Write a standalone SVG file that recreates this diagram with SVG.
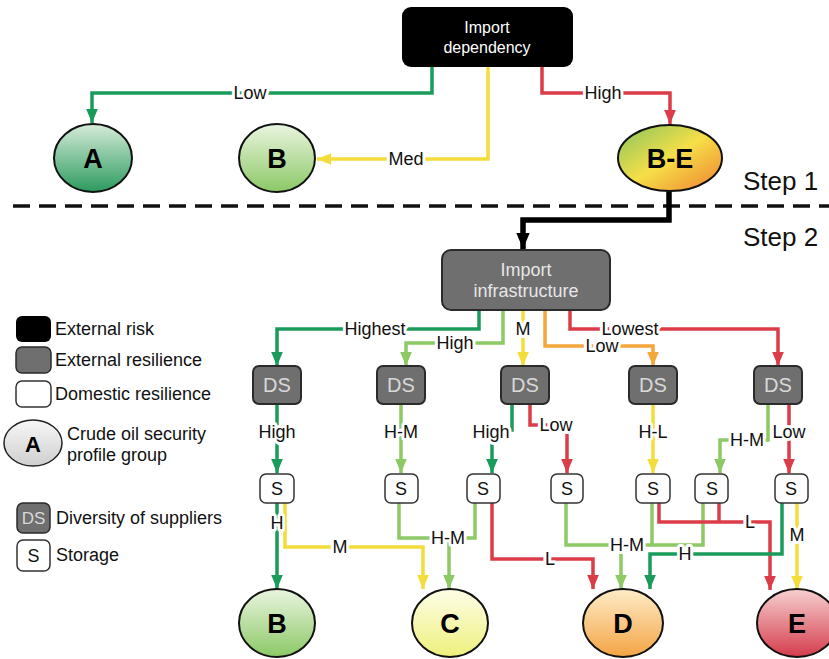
<svg xmlns="http://www.w3.org/2000/svg" width="829" height="659" viewBox="0 0 829 659">
<defs>
<style>
text{font-family:"Liberation Sans",Arial,sans-serif;}
.lbl{font-size:18px;fill:#111;text-anchor:middle;dominant-baseline:central;paint-order:stroke;stroke:#fff;stroke-width:6px;stroke-linejoin:round;}
.leg{font-size:18px;fill:#111;}
.big{font-size:27px;font-weight:bold;fill:#000;text-anchor:middle;dominant-baseline:central;}
.step{font-size:26px;fill:#111;}
.c{fill:none;stroke-width:3.5;stroke-linejoin:miter;}
.dg{stroke:#1a9b5b;}
.lg{stroke:#8dc965;}
.ye{stroke:#f4dc3a;}
.or{stroke:#f5a73b;}
.rd{stroke:#dc3c48;}
.ds{fill:#6f6f6f;stroke:#2b2b2b;stroke-width:2;}
.dst{font-size:20px;fill:#d8d8d8;text-anchor:middle;dominant-baseline:central;}
.s{fill:#fdfdfd;stroke:#333;stroke-width:1.5;}
.st{font-size:18px;fill:#111;text-anchor:middle;dominant-baseline:central;}
.el{stroke:#111;stroke-width:2;}
</style>
<marker id="mdg" markerUnits="userSpaceOnUse" viewBox="0 0 12 10" refX="12" refY="5" markerWidth="14" markerHeight="12" orient="auto"><path d="M0,0 L12,5 L0,10 z" fill="#1a9b5b"/></marker>
<marker id="mlg" markerUnits="userSpaceOnUse" viewBox="0 0 12 10" refX="12" refY="5" markerWidth="14" markerHeight="12" orient="auto"><path d="M0,0 L12,5 L0,10 z" fill="#8dc965"/></marker>
<marker id="mye" markerUnits="userSpaceOnUse" viewBox="0 0 12 10" refX="12" refY="5" markerWidth="14" markerHeight="12" orient="auto"><path d="M0,0 L12,5 L0,10 z" fill="#f4dc3a"/></marker>
<marker id="mor" markerUnits="userSpaceOnUse" viewBox="0 0 12 10" refX="12" refY="5" markerWidth="14" markerHeight="12" orient="auto"><path d="M0,0 L12,5 L0,10 z" fill="#f5a73b"/></marker>
<marker id="mrd" markerUnits="userSpaceOnUse" viewBox="0 0 12 10" refX="12" refY="5" markerWidth="14" markerHeight="12" orient="auto"><path d="M0,0 L12,5 L0,10 z" fill="#dc3c48"/></marker>
<marker id="mbk" markerUnits="userSpaceOnUse" viewBox="0 0 12 10" refX="12" refY="5" markerWidth="16" markerHeight="15" orient="auto"><path d="M0,0 L12,5 L0,10 z" fill="#000"/></marker>
<linearGradient id="gA" x1="0" y1="0" x2="0" y2="1"><stop offset="0" stop-color="#d6ecd9"/><stop offset="1" stop-color="#2c9a5e"/></linearGradient>
<linearGradient id="gB" x1="0" y1="0" x2="0" y2="1"><stop offset="0" stop-color="#eaf5e0"/><stop offset="1" stop-color="#8cc866"/></linearGradient>
<linearGradient id="gC" x1="0" y1="0" x2="0" y2="1"><stop offset="0" stop-color="#fefee8"/><stop offset="1" stop-color="#eef07c"/></linearGradient>
<linearGradient id="gD" x1="0" y1="0" x2="0" y2="1"><stop offset="0" stop-color="#fdecc8"/><stop offset="1" stop-color="#f4a444"/></linearGradient>
<linearGradient id="gE" x1="0" y1="0" x2="0" y2="1"><stop offset="0" stop-color="#f6d0d0"/><stop offset="1" stop-color="#d43c4c"/></linearGradient>
<linearGradient id="gBE" x1="0" y1="0" x2="1" y2="1"><stop offset="0" stop-color="#86c45e"/><stop offset="0.5" stop-color="#f6df48"/><stop offset="1" stop-color="#ef8030"/></linearGradient>
<linearGradient id="gL" x1="0" y1="0" x2="0" y2="1"><stop offset="0" stop-color="#f7f7f7"/><stop offset="1" stop-color="#cfcfcf"/></linearGradient>
</defs>
<rect width="829" height="659" fill="#fff"/>

<!-- step divider -->
<line x1="13" y1="206" x2="829" y2="206" stroke="#111" stroke-width="3.5" stroke-dasharray="17 9"/>
<text class="step" x="743" y="190">Step 1</text>
<text class="step" x="743" y="246">Step 2</text>

<g id="connectors">
<!-- step 1 -->
<path class="c dg" d="M432,67 V93 H92 V123" marker-end="url(#mdg)"/>
<path class="c ye" d="M488,67 V159 H317" marker-end="url(#mye)"/>
<path class="c rd" d="M542,67 V93 H670 V124" marker-end="url(#mrd)"/>
<path d="M669,190 V220 H523 V249" fill="none" stroke="#000" stroke-width="5.5" marker-end="url(#mbk)"/>
<!-- infra to DS -->
<path class="c dg" d="M479,310 V329 H277 V366" marker-end="url(#mdg)"/>
<path class="c lg" d="M503,310 V343 H406 V366" marker-end="url(#mlg)"/>
<path class="c ye" d="M523,310 V366" marker-end="url(#mye)"/>
<path class="c or" d="M545,310 V346 H653 V366" marker-end="url(#mor)"/>
<path class="c rd" d="M570,310 V329 H778 V366" marker-end="url(#mrd)"/>
<!-- DS to S -->
<path class="c dg" d="M277,404 V473" marker-end="url(#mdg)"/>
<path class="c lg" d="M401,404 V473" marker-end="url(#mlg)"/>
<path class="c dg" d="M512,404 V430 H492 V473" marker-end="url(#mdg)"/>
<path class="c rd" d="M530,404 V425 H567 V473" marker-end="url(#mrd)"/>
<path class="c ye" d="M653,404 V473" marker-end="url(#mye)"/>
<path class="c lg" d="M768,404 V440 H720 V473" marker-end="url(#mlg)"/>
<path class="c rd" d="M789,404 V473" marker-end="url(#mrd)"/>
<!-- S to groups -->
<path class="c dg" d="M277,503 V589" marker-end="url(#mdg)"/>
<path class="c ye" d="M285,503 V547 H423 V589" marker-end="url(#mye)"/>
<path class="c lg" d="M399,503 V538 H475 V503"/>
<path class="c lg" d="M449,538 V589" marker-end="url(#mlg)"/>
<path class="c rd" d="M492,503 V559 H593 V589" marker-end="url(#mrd)"/>
<path class="c lg" d="M566,503 V545 H703 V503"/>
<path class="c lg" d="M652,503 V545"/>
<path class="c lg" d="M621,545 V589" marker-end="url(#mlg)"/>
<path class="c rd" d="M659,503 V522 H770 V590" marker-end="url(#mrd)"/>
<path class="c rd" d="M719,503 V522"/>
<path class="c dg" d="M782,503 V554 H650 V589" marker-end="url(#mdg)"/>
<path class="c ye" d="M797,503 V590" marker-end="url(#mye)"/>
<!-- labels -->
<text class="lbl" x="250" y="93">Low</text>
<text class="lbl" x="406" y="159">Med</text>
<text class="lbl" x="603" y="93">High</text>
<text class="lbl" x="375" y="329">Highest</text>
<text class="lbl" x="455" y="343">High</text>
<text class="lbl" x="523" y="329">M</text>
<text class="lbl" x="602" y="346">Low</text>
<text class="lbl" x="630" y="329">Lowest</text>
<text class="lbl" x="277" y="432">High</text>
<text class="lbl" x="401" y="432">H-M</text>
<text class="lbl" x="491" y="432">High</text>
<text class="lbl" x="556" y="425">Low</text>
<text class="lbl" x="653" y="432">H-L</text>
<text class="lbl" x="747" y="440">H-M</text>
<text class="lbl" x="789" y="432">Low</text>
<text class="lbl" x="277" y="523">H</text>
<text class="lbl" x="340" y="547">M</text>
<text class="lbl" x="448" y="538">H-M</text>
<text class="lbl" x="550" y="559">L</text>
<text class="lbl" x="627" y="545">H-M</text>
<text class="lbl" x="750" y="522">L</text>
<text class="lbl" x="685" y="554">H</text>
<text class="lbl" x="797" y="535">M</text>
</g>

<g id="import-dependency">
<rect x="402" y="7" width="171" height="60" rx="9" fill="#000"/>
<text x="487" y="33" font-size="16" fill="#fff" text-anchor="middle">Import</text>
<text x="487" y="53" font-size="16" fill="#fff" text-anchor="middle">dependency</text>
</g>
<g id="A-top"><ellipse class="el" cx="93" cy="158" rx="39" ry="34" fill="url(#gA)"/><text class="big" x="93" y="159">A</text></g>
<g id="B-top"><ellipse class="el" cx="277" cy="158" rx="38" ry="34" fill="url(#gB)"/><text class="big" x="277" y="159">B</text></g>
<g id="B-E"><ellipse class="el" cx="670" cy="158" rx="52" ry="33" fill="url(#gBE)"/><text class="big" x="670" y="159">B-E</text></g>

<g id="import-infrastructure">
<rect x="442" y="250" width="168" height="60" rx="9" fill="#6f6f6f" stroke="#2b2b2b" stroke-width="2"/>
<text x="526" y="276" font-size="18" fill="#e6e6e6" text-anchor="middle">Import</text>
<text x="526" y="297" font-size="18" fill="#e6e6e6" text-anchor="middle">infrastructure</text>
</g>

<g id="ds1"><rect class="ds" x="253" y="366" width="48" height="38" rx="6"/><text class="dst" x="277" y="385">DS</text></g>
<g id="ds2"><rect class="ds" x="377" y="366" width="48" height="38" rx="6"/><text class="dst" x="401" y="385">DS</text></g>
<g id="ds3"><rect class="ds" x="501" y="366" width="48" height="38" rx="6"/><text class="dst" x="525" y="385">DS</text></g>
<g id="ds4"><rect class="ds" x="629" y="366" width="48" height="38" rx="6"/><text class="dst" x="653" y="385">DS</text></g>
<g id="ds5"><rect class="ds" x="754" y="366" width="48" height="38" rx="6"/><text class="dst" x="778" y="385">DS</text></g>

<g id="s1"><rect class="s" x="260" y="474" width="34" height="29" rx="6"/><text class="st" x="277" y="489">S</text></g>
<g id="s2"><rect class="s" x="385" y="474" width="33" height="29" rx="6"/><text class="st" x="401" y="489">S</text></g>
<g id="s3"><rect class="s" x="467" y="474" width="33" height="29" rx="6"/><text class="st" x="483" y="489">S</text></g>
<g id="s4"><rect class="s" x="551" y="474" width="32" height="29" rx="6"/><text class="st" x="567" y="489">S</text></g>
<g id="s5"><rect class="s" x="636" y="474" width="34" height="29" rx="6"/><text class="st" x="653" y="489">S</text></g>
<g id="s6"><rect class="s" x="695" y="474" width="33" height="29" rx="6"/><text class="st" x="712" y="489">S</text></g>
<g id="s7"><rect class="s" x="775" y="474" width="33" height="29" rx="6"/><text class="st" x="791" y="489">S</text></g>

<g id="B-bottom"><ellipse class="el" cx="277" cy="623" rx="38" ry="34" fill="url(#gB)"/><text class="big" x="277" y="624">B</text></g>
<g id="C-bottom"><ellipse class="el" cx="450" cy="623" rx="38" ry="34" fill="url(#gC)"/><text class="big" x="450" y="624">C</text></g>
<g id="D-bottom"><ellipse class="el" cx="623" cy="623" rx="40" ry="34" fill="url(#gD)"/><text class="big" x="623" y="624">D</text></g>
<g id="E-bottom"><ellipse class="el" cx="797" cy="623" rx="40" ry="34" fill="url(#gE)"/><text class="big" x="797" y="624">E</text></g>

<g id="legend">
<rect x="16" y="316" width="35" height="26" rx="6" fill="#000"/>
<text class="leg" x="55" y="335">External risk</text>
<rect x="16" y="347" width="35" height="26" rx="6" fill="#6f6f6f" stroke="#2b2b2b" stroke-width="1.5"/>
<text class="leg" x="55" y="366">External resilience</text>
<rect x="16" y="381" width="35" height="26" rx="6" fill="#fff" stroke="#333" stroke-width="1.5"/>
<text class="leg" x="55" y="400">Domestic resilience</text>
<ellipse cx="33" cy="443" rx="29" ry="23" fill="url(#gL)" stroke="#222" stroke-width="1.5"/>
<text x="33" y="444" font-size="22" font-weight="bold" fill="#000" text-anchor="middle" dominant-baseline="central">A</text>
<text class="leg" x="67" y="440">Crude oil security</text>
<text class="leg" x="67" y="461">profile group</text>
<rect x="17" y="503" width="33" height="30" rx="6" fill="#6f6f6f" stroke="#2b2b2b" stroke-width="1.5"/>
<text x="33.5" y="518" font-size="17" fill="#d8d8d8" text-anchor="middle" dominant-baseline="central">DS</text>
<text class="leg" x="56" y="524">Diversity of suppliers</text>
<rect x="17" y="540" width="33" height="31" rx="6" fill="#fff" stroke="#333" stroke-width="1.5"/>
<text x="33.5" y="556" font-size="18" fill="#111" text-anchor="middle" dominant-baseline="central">S</text>
<text class="leg" x="56" y="561">Storage</text>
</g>
</svg>
